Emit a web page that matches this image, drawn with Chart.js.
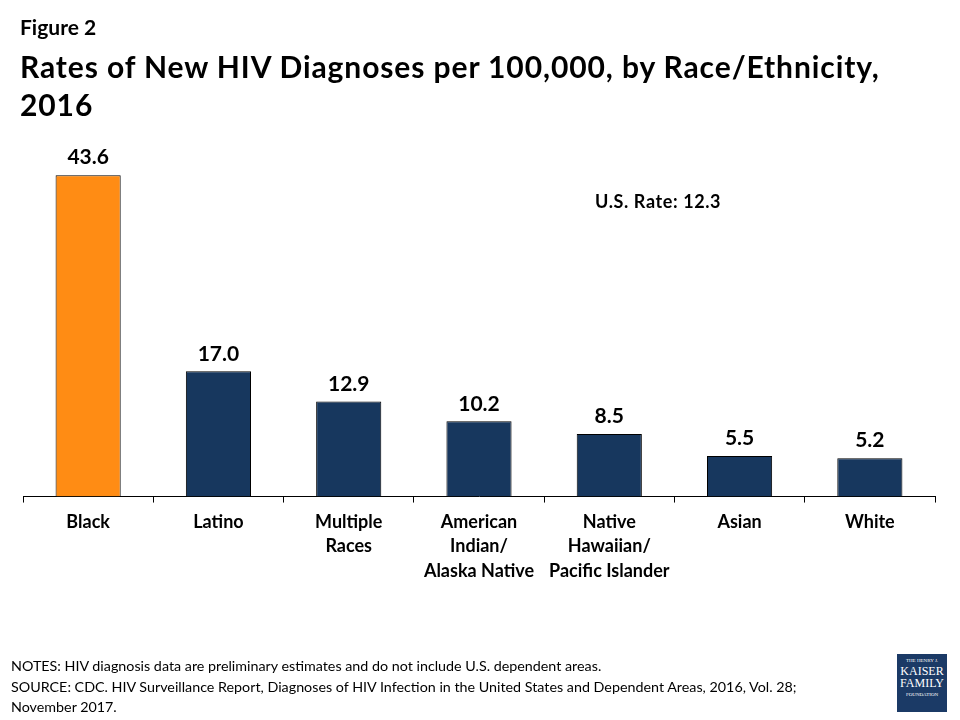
<!DOCTYPE html>
<html>
<head>
<meta charset="utf-8">
<script src="https://cdn.jsdelivr.net/npm/chart.js@4.4.0/dist/chart.umd.min.js"></script>
<style>
  html, body { margin: 0; padding: 0; background: #fff; }
  body { width: 960px; height: 720px; position: relative; overflow: hidden; font-family: Lato, "Open Sans", sans-serif; color: #000; }
  #wrap { position: absolute; left: 0; top: 0; width: 960px; height: 720px; }
  .abs { position: absolute; white-space: nowrap; }
  #fig { left: 20px; top: 14px; font-size: 21px; font-weight: bold; }
  #title { left: 20px; top: 47px; font-size: 30px; font-weight: bold; line-height: 38px; letter-spacing: 0.9px; }
  #usrate { left: 595px; top: 190px; font-size: 18px; font-weight: bold; letter-spacing: 0.6px; }
  #notes { left: 11px; top: 656px; font-size: 14.3px; line-height: 20.5px; }
  #logo { left: 897px; top: 654px; width: 50px; height: 58px; background: #1b3a66; color: #fff; font-family: "Liberation Serif", serif; text-align: center; }
</style>
</head>
<body>
<div id="wrap"><canvas id="c" width="960" height="720"></canvas></div>
<div class="abs" id="fig">Figure 2</div>
<div class="abs" id="title">Rates of New HIV Diagnoses per 100,000, by Race/Ethnicity,<br>2016</div>
<div class="abs" id="usrate">U.S. Rate: 12.3</div>
<div class="abs" id="notes">NOTES: HIV diagnosis data are preliminary estimates and do not include U.S. dependent areas.<br>SOURCE: CDC. HIV Surveillance Report, Diagnoses of HIV Infection in the United States and Dependent Areas, 2016, Vol. 28;<br>November 2017.</div>
<div class="abs" id="logo">
  <div style="font-size:5px;margin-top:4px;">THE HENRY J.</div>
  <div style="font-size:12px;line-height:12px;margin-top:2px;">KAISER</div>
  <div style="font-size:12px;line-height:12px;">FAMILY</div>
  <div style="font-size:5px;margin-top:3px;">FOUNDATION</div>
</div>
<script>
const categories = [
  ["Black"],
  ["Latino"],
  ["Multiple", "Races"],
  ["American", "Indian/", "Alaska Native"],
  ["Native", "Hawaiian/", "Pacific Islander"],
  ["Asian"],
  ["White"]
];
const rates = [43.6, 17.0, 12.9, 10.2, 8.5, 5.5, 5.2];
const barColors = ["#FF8C14", "#17375E", "#17375E", "#17375E", "#17375E", "#17375E", "#17375E"];

const valueLabels = {
  id: 'valueLabels',
  afterDatasetsDraw(chart) {
    const ctx = chart.ctx;
    const meta = chart.getDatasetMeta(0);
    ctx.save();
    ctx.font = 'bold 21px Lato, "Open Sans", sans-serif';
    ctx.fillStyle = '#000';
    ctx.textAlign = 'center';
    ctx.textBaseline = 'bottom';
    meta.data.forEach((bar, i) => {
      ctx.fillText(rates[i].toFixed(1), bar.x, bar.y - 7);
    });
    ctx.restore();
  }
};

new Chart(document.getElementById('c'), {
  type: 'bar',
  data: {
    labels: categories,
    datasets: [{
      data: rates,
      backgroundColor: barColors,
      borderColor: '#000',
      borderWidth: 1,
      categoryPercentage: 1.0,
      barPercentage: 0.5
    }]
  },
  options: {
    responsive: false,
    animation: false,
    devicePixelRatio: 1,
    layout: { padding: { left: 23, right: 25, top: 128, bottom: 130 } },
    plugins: { legend: { display: false }, tooltip: { enabled: false } },
    scales: {
      y: { display: false, min: 0, max: 50 },
      x: {
        border: { display: true, color: '#000', width: 1 },
        grid: { display: true, drawOnChartArea: false, color: '#000', tickLength: 6, offset: true },
        ticks: {
          color: '#000',
          maxRotation: 0,
          autoSkip: false,
          padding: 7,
          font: { family: 'Lato, "Open Sans", sans-serif', size: 18, weight: 'bold', lineHeight: 1.36 }
        }
      }
    }
  },
  plugins: [valueLabels]
});
</script>
</body>
</html>
